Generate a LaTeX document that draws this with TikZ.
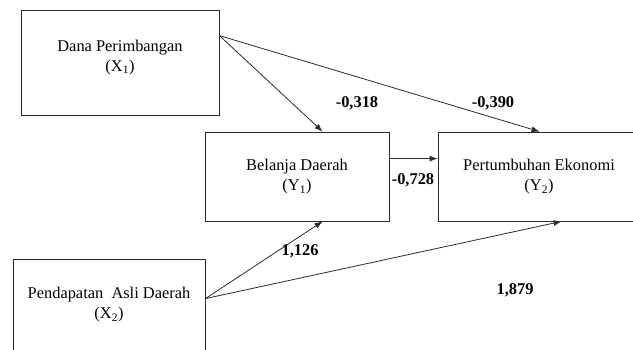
\documentclass[tikz,border=0pt]{standalone}
\usepackage{fontspec}
\setmainfont{Liberation Serif}
\usetikzlibrary{positioning, arrows.meta, calc}
\definecolor{garis}{HTML}{2B2B2B}

\begin{document}
\begin{tikzpicture}[x=1pt, y=-1pt, font=\fontsize{16.4}{20}\selectfont,
    kotak/.style={draw=garis, line width=0.8pt, align=center, inner sep=0pt},
    panah/.style={draw=garis, line width=0.8pt, -{Latex[length=8pt, width=6pt]}}]
  \useasboundingbox (0,0) rectangle (633,349);
  \clip (0,0) rectangle (633,349);
  \node[kotak, minimum width=198pt, minimum height=105pt, text depth=14pt] (x1) at (120,62.5)
    {Dana Perimbangan\\(X\textsubscript{1})};
  \node[kotak, minimum width=184pt, minimum height=89pt] (y1) at (297,176.5)
    {Belanja Daerah\\(Y\textsubscript{1})};
  \node[kotak, minimum width=202pt, minimum height=89pt] (y2) at (539,176.5)
    {Pertumbuhan Ekonomi\\(Y\textsubscript{2})};
  \node[kotak, minimum width=192pt, minimum height=92pt] (x2) at (109,305)
    {Pendapatan\ \ Asli Daerah\\(X\textsubscript{2})};

  \draw[panah] ([yshift=-26pt]x1.north east) -- ([xshift=118pt]y1.north west);
  \draw[panah] ([yshift=-26pt]x1.north east) -- ([xshift=102pt]y2.north west);
  \draw[panah] ([yshift=-27pt]y1.north east) -- ([yshift=-27pt]y1.north east -| y2.west);
  \draw[panah] ([yshift=-40pt]x2.north east) -- ([xshift=118pt]y1.south west);
  \draw[panah] ([yshift=-40pt]x2.north east) -- ([xshift=124pt]y2.south west);

  \foreach \n/\x/\y/\t in {a/357/103/{-0,318}, b/493/103/{-0,390}, c/413/180/{-0,728},
                           d/300/251/{1,126}, e/515/290/{1,879}} {
    \node[font=\fontsize{16.4}{20}\selectfont\bfseries] (k\n) at (\x,\y) {\t};
  }
\end{tikzpicture}
\end{document}
